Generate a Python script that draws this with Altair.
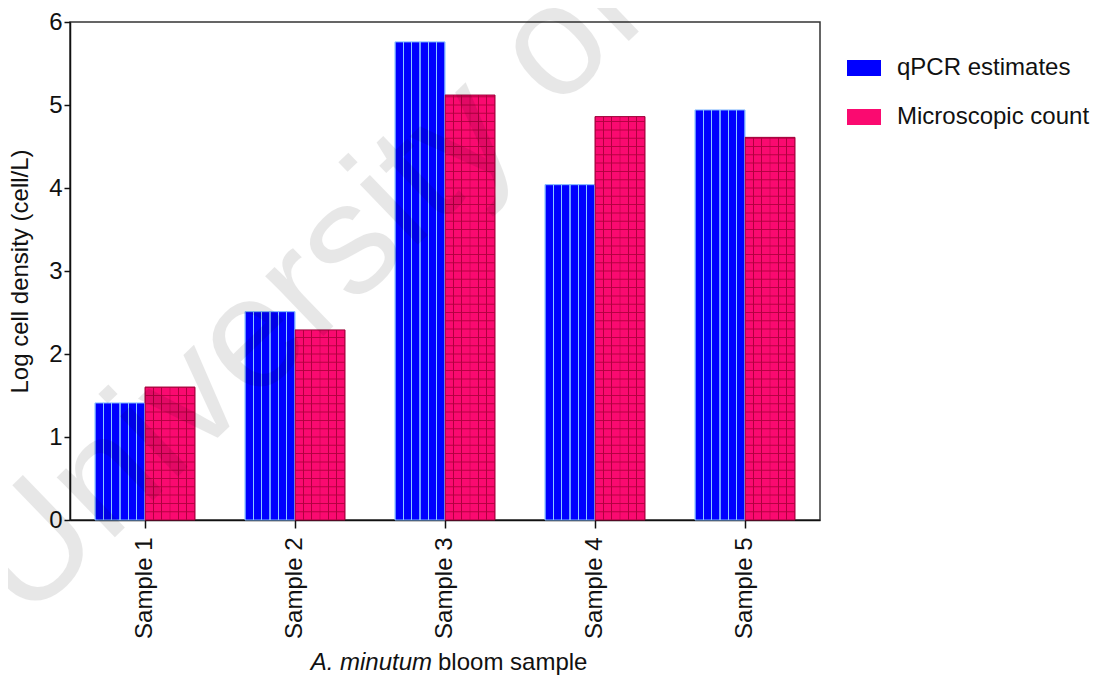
import altair as alt
import pandas as pd

samples = ["Sample 1", "Sample 2", "Sample 3", "Sample 4", "Sample 5"]
series = ["qPCR estimates", "Microscopic count"]
qpcr = [1.41, 2.51, 5.76, 4.04, 4.94]
micro = [1.60, 2.29, 5.12, 4.86, 4.61]
y_ticks = [0, 1, 2, 3, 4, 5, 6]

BLUE = "#0000FF"
PINK = "#FA0A70"
GRID = "#B0003F"
FONT = "Liberation Sans"
FS = 24

rows = []
for s, q, m in zip(samples, qpcr, micro):
    rows.append({"sample": s, "series": series[0], "value": q})
    rows.append({"sample": s, "series": series[1], "value": m})
df = pd.DataFrame(rows)


def stripes(base, line, half=0.009, edge=0.014):
    stops = [{"offset": 0, "color": line}, {"offset": 0.02, "color": base}]
    for k in range(1, 6):
        c = k / 6
        stops += [
            {"offset": c - edge, "color": base},
            {"offset": c - half, "color": line},
            {"offset": c + half, "color": line},
            {"offset": c + edge, "color": base},
        ]
    stops += [{"offset": 0.98, "color": base}, {"offset": 1, "color": line}]
    return {"gradient": "linear", "x1": 0, "y1": 0, "x2": 1, "y2": 0, "stops": stops}


x_enc = alt.X(
    "sample:N",
    sort=samples,
    scale=alt.Scale(paddingInner=1 / 3, paddingOuter=1 / 6),
    axis=alt.Axis(
        title=None,
        labelAngle=270,
        labelAlign="right",
        labelBaseline="middle",
        labelPadding=9,
        tickSize=8,
        domain=True,
    ),
)
xo_enc = alt.XOffset("series:N", sort=series, scale=alt.Scale(paddingInner=0, paddingOuter=0))
y_enc = alt.Y(
    "value:Q",
    scale=alt.Scale(domain=[0, 6]),
    axis=alt.Axis(
        values=y_ticks,
        format="d",
        title="Log cell density (cell/L)",
        grid=False,
        tickSize=6,
        labelPadding=2,
        titlePadding=16,
    ),
)

base = alt.Chart(df)

bars = base.mark_bar(strokeWidth=1).encode(
    x=x_enc,
    xOffset=xo_enc,
    y=y_enc,
    fill=alt.Fill(
        "series:N",
        sort=series,
        scale=alt.Scale(domain=series, range=[BLUE, PINK]),
        legend=alt.Legend(
            title=None,
            orient="none",
            legendX=777,
            legendY=29,
            symbolType="M-1,-0.47H1V0.47H-1Z",
            symbolSize=1156,
            symbolStrokeWidth=0,
            labelOffset=16,
            labelLimit=400,
            rowPadding=20,
            labelFontSize=FS,
            labelFont=FONT,
            labelColor="#111",
        ),
    ),
    stroke=alt.Stroke(
        "series:N",
        sort=series,
        scale=alt.Scale(domain=series, range=["#7FB8FF", "#9A0038"]),
        legend=None,
    ),
)

blue_stripes = base.transform_filter(alt.datum.series == series[0]).mark_bar(
    fill=stripes("rgba(140,200,255,0)", "#8CC8FF")
).encode(x=x_enc, xOffset=xo_enc, y=y_enc)

pink_vlines = base.transform_filter(alt.datum.series == series[1]).mark_bar(
    fill=stripes("rgba(170,0,60,0)", GRID, half=0.007, edge=0.011)
).encode(x=x_enc, xOffset=xo_enc, y=y_enc)

pink_hlines = (
    base.transform_filter(alt.datum.series == series[1])
    .transform_calculate(lines="sequence(1, floor(datum.value * 10) + 1)")
    .transform_flatten(["lines"])
    .transform_calculate(lv="datum.lines / 10")
    .mark_tick(orient="horizontal", size=50, thickness=1, color=GRID, opacity=0.9)
    .encode(x=x_enc, xOffset=xo_enc, y=alt.Y("lv:Q", scale=alt.Scale(domain=[0, 6])))
)

one = pd.DataFrame({"t": ["A. minutum"], "u": ["bloom sample"], "w": ["University of"]})

title_it = alt.Chart(one).mark_text(
    font=FONT, fontSize=24, fontStyle="italic", align="right", baseline="alphabetic", color="#111"
).encode(text="t:N", x=alt.value(362), y=alt.value(648))

title_rest = alt.Chart(one).mark_text(
    font=FONT, fontSize=24, align="left", baseline="alphabetic", color="#111"
).encode(text="u:N", x=alt.value(368), y=alt.value(648))

watermark = alt.Chart(one).mark_text(
    font=FONT, fontSize=158, align="left", baseline="alphabetic",
    angle=316, color="#000", opacity=0.09
).encode(text="w:N", x=alt.value(-45), y=alt.value(602))

chart = (
    alt.layer(bars, blue_stripes, pink_vlines, pink_hlines, title_it, title_rest, watermark)
    .properties(
        width=750,
        height=498,
        background="white",
        autosize=alt.AutoSizeParams(type="none"),
        padding={"left": 62, "top": 14, "right": 284, "bottom": 155},
    )
    .configure_view(stroke="#333", strokeWidth=1.5)
    .configure_axis(
        labelFont=FONT,
        labelFontSize=FS,
        labelColor="#111",
        titleFont=FONT,
        titleFontSize=FS,
        titleFontWeight="normal",
        titleColor="#111",
        domainColor="#111",
        domainWidth=1.5,
        tickColor="#111",
        tickWidth=1.5,
    )
)

chart.save("out.html", embed_options={"renderer": "svg", "actions": False})
